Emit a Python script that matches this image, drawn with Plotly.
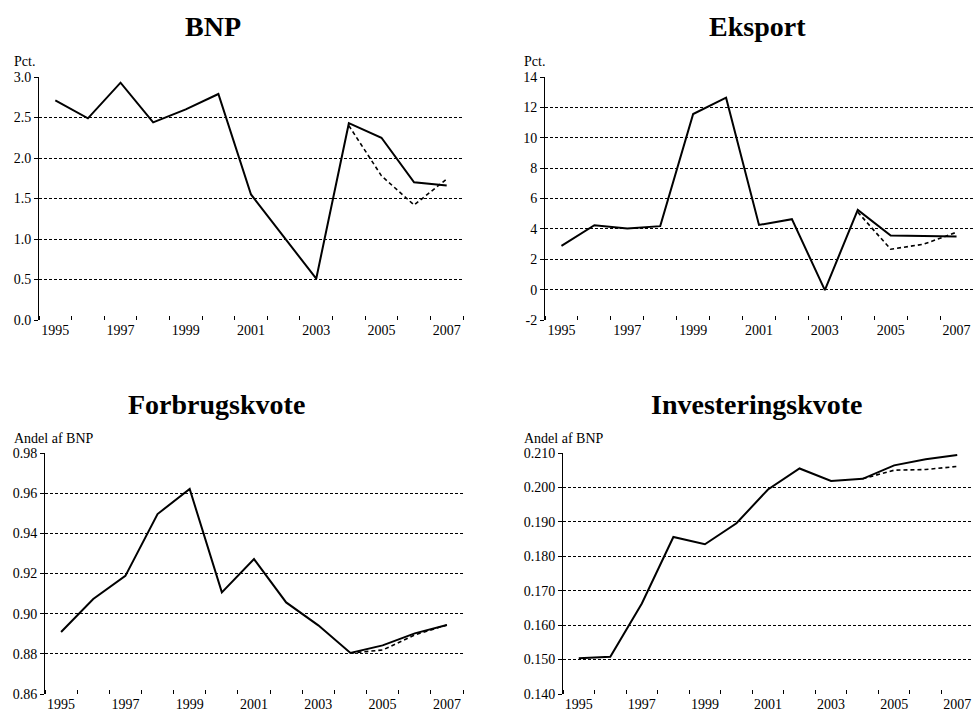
import plotly.graph_objects as go

years = list(range(1995, 2008))
label_years = [1995, 1997, 1999, 2001, 2003, 2005, 2007]

bnp_solid = [2.71, 2.49, 2.93, 2.44, 2.60, 2.79, 1.55, 1.03, 0.51, 2.43, 2.25, 1.70, 1.66]
bnp_dash = [None] * 9 + [2.40, 1.78, 1.42, 1.74]

eksport_solid = [2.88, 4.24, 4.02, 4.18, 11.56, 12.64, 4.26, 4.64, -0.03, 5.25, 3.56, 3.52, 3.49]
eksport_dash = [None] * 9 + [5.10, 2.66, 2.99, 3.78]
eksport_tickvals = [-2, 0, 2, 4, 6, 8, 10, 12, 14]
eksport_ticktext = ["-2", "0", "2", "4", "6", "8", "10", "12", "14"]

forbrug_solid = [0.8909, 0.9073, 0.9188, 0.9496, 0.9621, 0.9106, 0.9272, 0.9056, 0.8942,
                 0.8804, 0.8842, 0.8902, 0.8944]
forbrug_dash = [None] * 9 + [0.8804, 0.8819, 0.8894, 0.8944]

invest_solid = [0.1504, 0.1508, 0.1663, 0.1856, 0.1835, 0.1896, 0.1994, 0.2055, 0.2019,
                0.2025, 0.2064, 0.2082, 0.2094]
invest_dash = [None] * 9 + [0.2025, 0.2050, 0.2052, 0.2061]

titles = ["BNP", "Eksport", "Forbrugskvote", "Investeringskvote"]
units = ["Pct.", "Pct.", "Andel af BNP", "Andel af BNP"]

W, H = 973, 713
FONT = "Liberation Serif, Times New Roman, serif"

# panel geometry in pixels: (left, right, top, bottom)
panels = [(39, 463, 77, 320), (545, 973, 77, 320), (45, 463, 453, 694), (563, 973, 453, 694)]
yranges = [(0, 3), (-2, 14), (0.86, 0.98), (0.14, 0.21)]
ydticks = [0.5, 2, 0.02, 0.01]
yformats = [".1f", "d", ".2f", ".3f"]
series = [(bnp_solid, bnp_dash), (eksport_solid, eksport_dash),
          (forbrug_solid, forbrug_dash), (invest_solid, invest_dash)]
title_pos = [(213, 27), (757, 27), (216, 404), (757, 404)]
unit_pos = [(12, 62), (522, 62), (12, 438), (522, 438)]

boundaries = [y - 0.5 for y in years] + [years[-1] + 0.5]

fig = go.Figure()
layout = dict(width=W, height=H, margin=dict(l=0, r=0, t=0, b=0, autoexpand=False),
              paper_bgcolor="white", plot_bgcolor="white", showlegend=False,
              font=dict(family=FONT, size=14, color="black"))
annotations = []

for i in range(4):
    n = "" if i == 0 else str(i + 1)
    solid, dash = series[i]
    fig.add_trace(go.Scatter(x=years, y=dash, mode="lines", xaxis="x" + n, yaxis="y" + n,
                             line=dict(color="black", width=1.6, dash="4px,3px"),
                             connectgaps=False, hoverinfo="skip"))
    fig.add_trace(go.Scatter(x=years, y=solid, mode="lines", xaxis="x" + n, yaxis="y" + n,
                             line=dict(color="black", width=2)))
    l, r, t, b = panels[i]
    layout["xaxis" + n] = dict(
        domain=[l / W, r / W], anchor="y" + n, range=[1994.5, 2007.5], automargin=False,
        tickmode="array", tickvals=label_years, ticks="", showgrid=False,
        showline=False, zeroline=False, tickfont=dict(family=FONT, size=14, color="black"),
        minor=dict(tickmode="array", tickvals=boundaries, ticks="inside", ticklen=4,
                   tickcolor="black", tickwidth=1, showgrid=False),
    )
    y0, y1 = yranges[i]
    yax = dict(
        domain=[1 - b / H, 1 - t / H], anchor="x" + n, range=[y0, y1], automargin=False,
        tick0=y0, dtick=ydticks[i], tickformat=yformats[i],
        showline=True, linecolor="black", linewidth=1,
        ticks="outside", ticklen=4, tickcolor="black",
        showgrid=True, gridcolor="black", gridwidth=0.8, griddash="3px,2px",
        zeroline=False, tickfont=dict(family=FONT, size=14, color="black"),
    )
    if i == 1:
        yax.update(tickmode="array", tickvals=eksport_tickvals, ticktext=eksport_ticktext)
    layout["yaxis" + n] = yax
    tx, ty = title_pos[i]
    annotations.append(dict(text="<b>" + titles[i] + "</b>", x=tx / W, y=1 - ty / H,
                            xref="paper", yref="paper", xanchor="center", yanchor="middle",
                            showarrow=False, font=dict(family=FONT, size=28, color="black")))
    ux, uy = unit_pos[i]
    annotations.append(dict(text=units[i], x=ux / W, y=1 - uy / H,
                            xref="paper", yref="paper", xanchor="left", yanchor="middle",
                            showarrow=False, font=dict(family=FONT, size=14, color="black")))

layout["annotations"] = annotations
fig.update_layout(**layout)
fig.write_html("out.html", config={"displayModeBar": False},
               post_script="document.body.style.margin='0';document.body.style.overflow='hidden';")
